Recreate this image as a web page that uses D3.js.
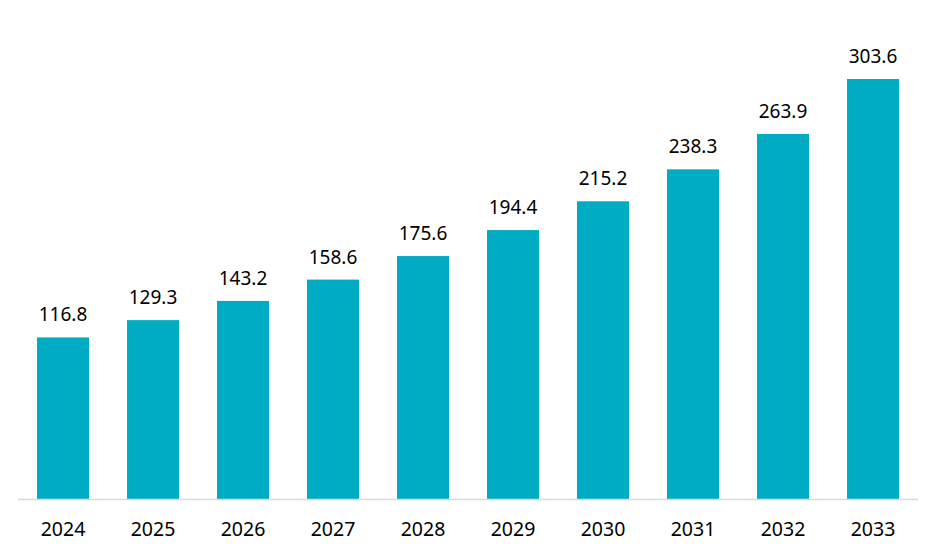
<html>
<head><script src="https://d3js.org/d3.v7.min.js"></script></head>
<style>
    body { margin: 0; background: white; }
</style>
<body>
<svg id="chart" width="939" height="549"></svg>
<script>
    const years = ["2024", "2025", "2026", "2027", "2028", "2029", "2030", "2031", "2032", "2033"]
    const values = [116.8, 129.3, 143.2, 158.6, 175.6, 194.4, 215.2, 238.3, 263.9, 303.6]

    const svg = d3.select("svg#chart")
    const baseY = 499
    const topY = 79

    const xScale = d3.scaleBand()
        .domain(years)
        .range([18, 918])
        .paddingInner(0.4222)
        .paddingOuter(0.2111)

    const yScale = d3.scaleLinear()
        .domain([0, 303.6])
        .range([baseY, topY])

    const data = years.map((y, i) => ({year: y, value: values[i]}))

    svg.selectAll("rect.bar").data(data)
        .join("rect")
        .attr("class", "bar")
        .attr("x", d => xScale(d.year))
        .attr("width", xScale.bandwidth())
        .attr("y", d => yScale(d.value))
        .attr("height", d => baseY - yScale(d.value))
        .attr("fill", "#00abc4")

    // baseline
    svg.append("line")
        .attr("x1", 18).attr("x2", 918)
        .attr("y1", baseY + 0.5).attr("y2", baseY + 0.5)
        .attr("stroke", "#d9d9d9")
        .attr("stroke-width", 1.5)

    // value labels
    svg.selectAll("text.val").data(data)
        .join("text")
        .attr("class", "val")
        .attr("x", d => xScale(d.year) + xScale.bandwidth() / 2)
        .attr("y", d => yScale(d.value) - 16)
        .attr("text-anchor", "middle")
        .attr("font-family", "'Noto Sans', sans-serif")
        .attr("font-size", "19px")
        .attr("fill", "#000")
        .text(d => d.value.toFixed(1))

    // year labels
    svg.selectAll("text.yr").data(data)
        .join("text")
        .attr("class", "yr")
        .attr("x", d => xScale(d.year) + xScale.bandwidth() / 2)
        .attr("y", 536)
        .attr("text-anchor", "middle")
        .attr("font-family", "'Noto Sans', sans-serif")
        .attr("font-size", "19.5px")
        .attr("fill", "#000")
        .text(d => d.year)
</script>
</body>
</html>
